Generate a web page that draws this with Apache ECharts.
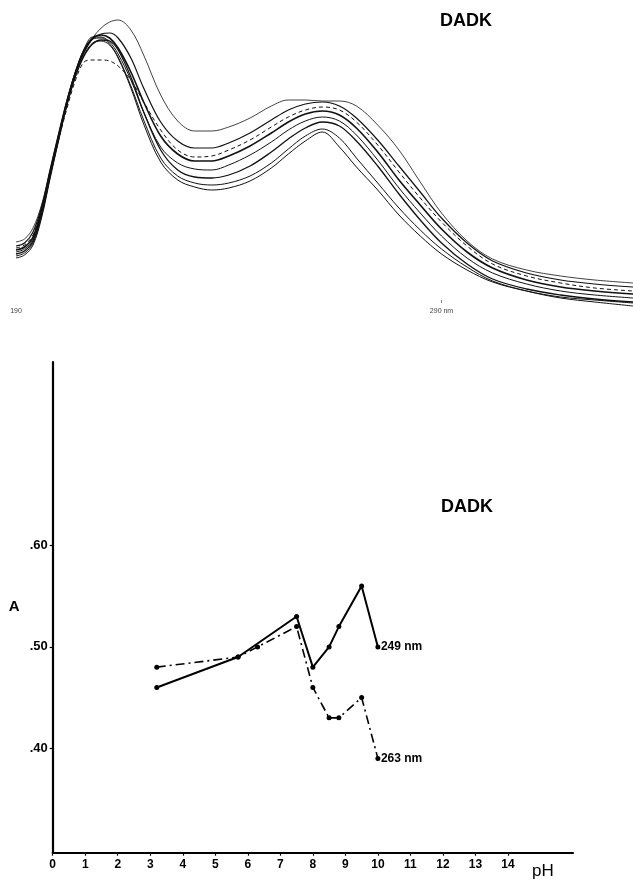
<!DOCTYPE html>
<html>
<head>
<meta charset="utf-8">
<title>DADK</title>
<script src="https://cdn.jsdelivr.net/npm/echarts@6/dist/echarts.min.js"></script>
<style>
  html, body { margin: 0; padding: 0; background: #fff; }
  #chart { width: 633px; height: 881px; }
</style>
</head>
<body>
<div id="chart"></div>
<script>
// ---- UV spectra (upper panel): absorbance vs wavelength, one curve per pH ----
const wavelengths = [190, 192, 194, 196, 198, 200, 202, 204, 206, 208, 210, 212, 214, 217, 220, 224, 228, 232, 236, 240, 245, 250, 254, 258, 262, 266, 270, 275, 280, 285, 290, 296, 302, 310, 318, 326, 335];

const spectrum1 = [0.244, 0.256, 0.300, 0.392, 0.524, 0.668, 0.804, 0.916, 1.000, 1.060, 1.100, 1.124, 1.132, 1.092, 0.992, 0.832, 0.728, 0.688, 0.688, 0.704, 0.740, 0.788, 0.812, 0.812, 0.808, 0.808, 0.788, 0.712, 0.612, 0.484, 0.360, 0.248, 0.176, 0.132, 0.108, 0.092, 0.080];
const spectrum2 = [0.228, 0.240, 0.284, 0.384, 0.532, 0.676, 0.812, 0.924, 1.004, 1.056, 1.076, 1.080, 1.060, 0.980, 0.860, 0.724, 0.648, 0.620, 0.620, 0.640, 0.680, 0.732, 0.772, 0.796, 0.804, 0.788, 0.740, 0.652, 0.548, 0.444, 0.340, 0.240, 0.168, 0.120, 0.092, 0.076, 0.064];
const spectrum3 = [0.220, 0.232, 0.272, 0.372, 0.512, 0.652, 0.780, 0.892, 0.964, 0.972, 0.972, 0.968, 0.948, 0.892, 0.804, 0.692, 0.612, 0.584, 0.588, 0.612, 0.652, 0.704, 0.744, 0.772, 0.784, 0.772, 0.724, 0.632, 0.524, 0.420, 0.324, 0.228, 0.156, 0.108, 0.080, 0.060, 0.048];
const spectrum4 = [0.212, 0.224, 0.264, 0.372, 0.524, 0.668, 0.808, 0.924, 1.012, 1.060, 1.072, 1.060, 1.020, 0.924, 0.804, 0.668, 0.596, 0.568, 0.568, 0.588, 0.628, 0.680, 0.724, 0.756, 0.768, 0.752, 0.700, 0.604, 0.492, 0.392, 0.296, 0.204, 0.140, 0.092, 0.064, 0.048, 0.036];
const spectrum5 = [0.204, 0.216, 0.256, 0.364, 0.516, 0.664, 0.808, 0.928, 1.016, 1.064, 1.064, 1.044, 0.996, 0.892, 0.764, 0.624, 0.560, 0.536, 0.532, 0.552, 0.592, 0.644, 0.692, 0.728, 0.744, 0.728, 0.672, 0.572, 0.460, 0.360, 0.268, 0.180, 0.120, 0.076, 0.048, 0.032, 0.020];
const spectrum6 = [0.196, 0.208, 0.248, 0.356, 0.508, 0.656, 0.796, 0.908, 0.988, 1.036, 1.052, 1.048, 1.012, 0.904, 0.764, 0.612, 0.532, 0.504, 0.500, 0.512, 0.548, 0.604, 0.656, 0.700, 0.724, 0.708, 0.648, 0.548, 0.436, 0.332, 0.240, 0.156, 0.096, 0.056, 0.032, 0.016, 0.004];
const spectrum7 = [0.188, 0.200, 0.240, 0.348, 0.504, 0.656, 0.800, 0.920, 1.008, 1.056, 1.060, 1.036, 0.984, 0.868, 0.732, 0.580, 0.508, 0.480, 0.472, 0.480, 0.508, 0.560, 0.616, 0.668, 0.696, 0.660, 0.580, 0.480, 0.380, 0.292, 0.216, 0.144, 0.088, 0.048, 0.020, 0.004, -0.012];
const spectrum8 = [0.180, 0.192, 0.232, 0.340, 0.496, 0.648, 0.792, 0.908, 0.992, 1.040, 1.048, 1.032, 0.980, 0.860, 0.716, 0.564, 0.492, 0.464, 0.452, 0.460, 0.488, 0.540, 0.596, 0.648, 0.684, 0.624, 0.544, 0.452, 0.352, 0.268, 0.196, 0.132, 0.084, 0.048, 0.024, 0.012, 0.000];

const spectrumLabels = [190, 290];

// ---- Absorbance vs pH (lower panel) ----
const ph249 = [3.2, 5.7, 7.5, 8.0, 8.5, 8.8, 9.5, 10.0];
const a249  = [0.46, 0.49, 0.53, 0.48, 0.50, 0.52, 0.56, 0.50];
const ph263 = [3.2, 5.7, 6.3, 7.5, 8.0, 8.5, 8.8, 9.5, 10.0];
const a263  = [0.48, 0.49, 0.50, 0.52, 0.46, 0.43, 0.43, 0.45, 0.39];

const phTicks = [0, 1, 2, 3, 4, 5, 6, 7, 8, 9, 10, 11, 12, 13, 14];
const aTicks = [0.40, 0.50, 0.60];

const FONT = 'Liberation Sans';
const zip = (xs, ys) => xs.map((x, i) => [x, ys[i]]);

const spectra = [spectrum1, spectrum2, spectrum3, spectrum4, spectrum5, spectrum6, spectrum7, spectrum8];
const spectrumStyles = [
  { width: 0.8, type: 'solid' },
  { width: 1.2, type: 'solid' },
  { width: 1.0, type: [4, 3] },
  { width: 1.6, type: 'solid' },
  { width: 1.0, type: 'solid' },
  { width: 1.3, type: 'solid' },
  { width: 1.0, type: 'solid' },
  { width: 1.0, type: 'solid' }
];

const spectrumSeries = spectra.map((s, i) => ({
  type: 'line',
  name: 'spectrum' + (i + 1),
  xAxisIndex: 0,
  yAxisIndex: 0,
  data: zip(wavelengths, s),
  smooth: 0.35,
  showSymbol: false,
  clip: false,
  lineStyle: { color: '#111', width: spectrumStyles[i].width, type: spectrumStyles[i].type }
}));

const chart = echarts.init(document.getElementById('chart'), null, { renderer: 'canvas' });

chart.setOption({
  animation: false,
  backgroundColor: '#fff',
  grid: [
    { left: 16, right: 0, top: 3, height: 300 },
    { left: 52.7, right: 60, top: 362, bottom: 28.3 }
  ],
  xAxis: [
    {
      gridIndex: 0, type: 'value', min: 190, max: 335,
      axisLine: { show: false },
      splitLine: { show: false },
      axisTick: { show: true, inside: true, length: 3, customValues: [290], lineStyle: { color: '#666', width: 0.8 } },
      axisLabel: {
        customValues: spectrumLabels,
        margin: 5,
        fontFamily: FONT, fontSize: 7, color: '#444',
        formatter: v => (v === 290 ? '290 nm' : String(v))
      }
    },
    {
      gridIndex: 1, type: 'value', min: 0, max: 16,
      axisLine: { show: true, onZero: false, lineStyle: { color: '#000', width: 2.2 } },
      splitLine: { show: false },
      axisTick: { show: true, length: 3, customValues: phTicks, lineStyle: { color: '#000', width: 1.2 } },
      axisLabel: {
        customValues: phTicks, margin: 6,
        fontFamily: FONT, fontWeight: 'bold', fontSize: 12, color: '#000'
      },
      name: 'pH', nameLocation: 'end', nameGap: -41,
      nameTextStyle: { fontFamily: FONT, fontSize: 17, color: '#000', verticalAlign: 'top', padding: [10, 0, 0, 0] }
    }
  ],
  yAxis: [
    {
      gridIndex: 0, type: 'value', min: 0, max: 1.2, show: false
    },
    {
      gridIndex: 1, type: 'value', min: 0.297, max: 0.781,
      axisLine: { show: true, onZero: false, lineStyle: { color: '#000', width: 2.2 } },
      splitLine: { show: false },
      axisTick: { show: true, length: 3, customValues: aTicks, lineStyle: { color: '#000', width: 1.2 } },
      axisLabel: {
        customValues: aTicks, margin: 5,
        fontFamily: FONT, fontWeight: 'bold', fontSize: 13, color: '#000',
        formatter: v => '.' + Math.round(v * 100)
      },
      name: 'A', nameLocation: 'middle', nameRotate: 0, nameGap: 33,
      nameTextStyle: { fontFamily: FONT, fontWeight: 'bold', fontSize: 15, color: '#000', padding: [10, 0, 0, 0] }
    }
  ],
  graphic: [
    { type: 'text', left: 440, top: 12, style: { text: 'DADK', fontFamily: FONT, fontWeight: 'bold', fontSize: 18, fill: '#000' } },
    { type: 'text', left: 441, top: 498, style: { text: 'DADK', fontFamily: FONT, fontWeight: 'bold', fontSize: 18, fill: '#000' } }
  ],
  series: spectrumSeries.concat([
    {
      type: 'line', name: '249 nm', xAxisIndex: 1, yAxisIndex: 1,
      data: zip(ph249, a249),
      symbol: 'circle', symbolSize: 5,
      itemStyle: { color: '#000' },
      lineStyle: { color: '#000', width: 2 },
      endLabel: { show: true, formatter: '249 nm', distance: 3, fontFamily: FONT, fontWeight: 'bold', fontSize: 12, color: '#000' }
    },
    {
      type: 'line', name: '263 nm', xAxisIndex: 1, yAxisIndex: 1,
      data: zip(ph263, a263),
      symbol: 'circle', symbolSize: 5,
      itemStyle: { color: '#000' },
      lineStyle: { color: '#000', width: 1.6, type: [9, 4, 2, 4] },
      endLabel: { show: true, formatter: '263 nm', distance: 3, fontFamily: FONT, fontWeight: 'bold', fontSize: 12, color: '#000' }
    }
  ])
});
</script>
</body>
</html>
